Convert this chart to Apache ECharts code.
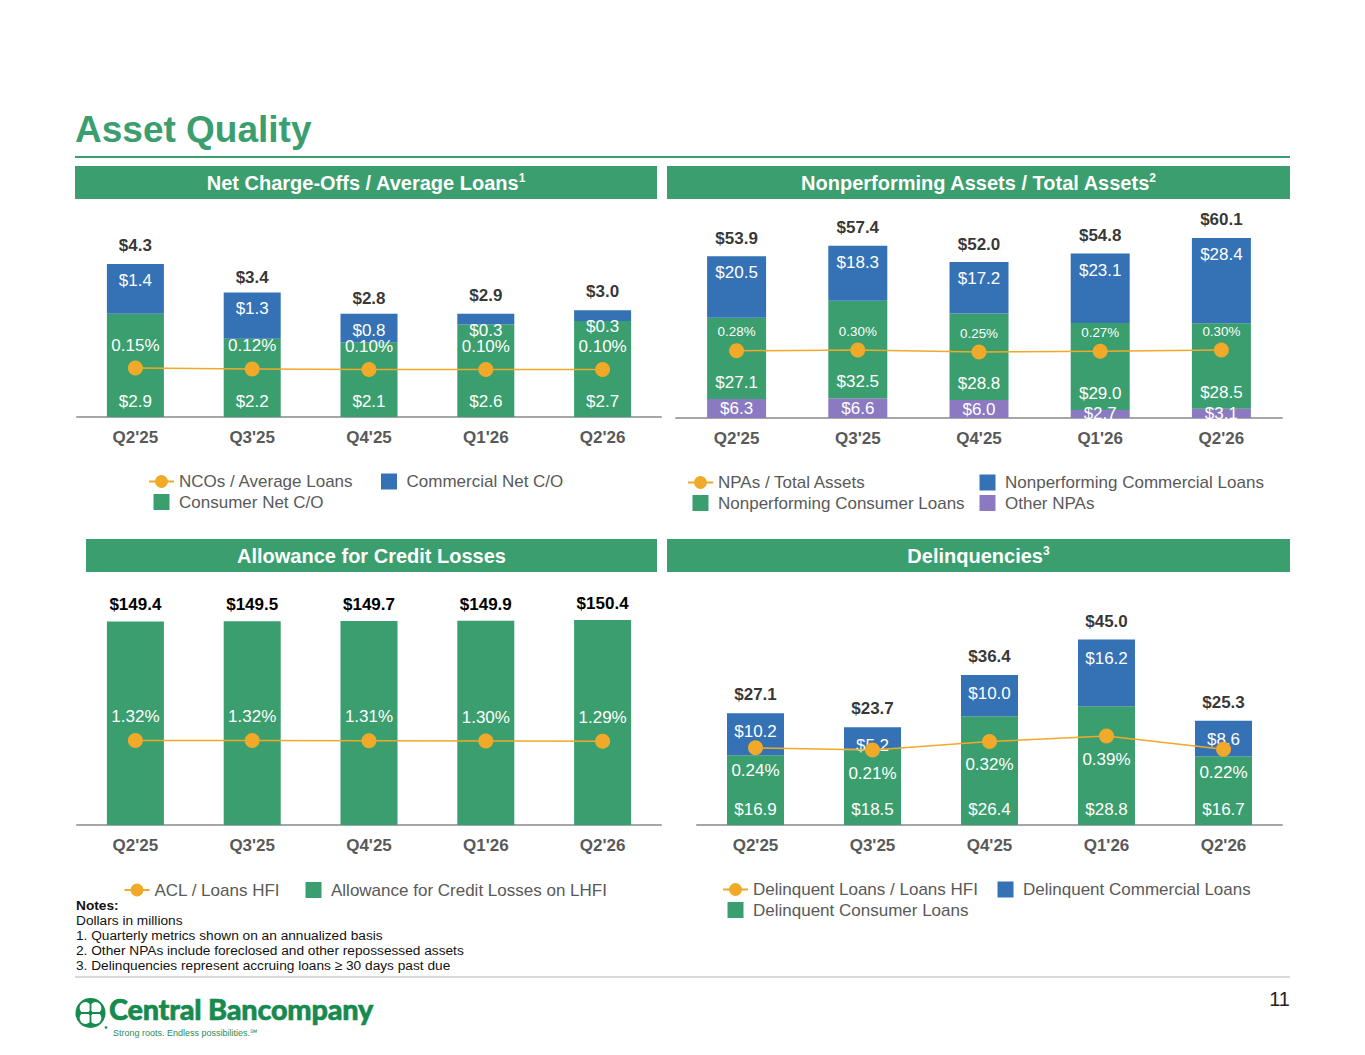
<!DOCTYPE html>
<html>
<head>
<meta charset="utf-8">
<script src="https://cdn.jsdelivr.net/npm/echarts@6/dist/echarts.min.js"></script>
<style>
  body { margin: 0; background: #fff; font-family: 'Liberation Sans', Arial, sans-serif; }
  #page { position: relative; width: 1365px; height: 1055px; overflow: hidden; }
  #chart { position: absolute; left: 0; top: 0; width: 1365px; height: 1055px; }
  .abs { position: absolute; z-index: 2; }
  .title { left: 75px; top: 111px; font-size: 37px; line-height: 37px; font-weight: bold; color: #3A9E6E; }
  .rule { left: 75px; top: 156px; width: 1215px; height: 2px; background: #3A9E6E; }
  .head { height: 33px; line-height: 34px; background: #3A9E6E; color: #fff; font-size: 20px; font-weight: bold; text-align: center; }
  .sup { font-size: 12px; position: relative; top: -8px; }
  .notes { left: 76px; top: 898px; font-size: 13.7px; line-height: 15px; color: #111; }
  .foot { left: 75px; top: 976px; width: 1215px; height: 2px; background: #D9D9D9; }
  .pnum { left: 1240px; width: 50px; top: 988px; font-size: 20px; text-align: right; color: #222; }
  .brand { left: 109px; top: 994px; font-family: Lato, 'Liberation Sans', sans-serif; font-weight: 900; font-size: 28.8px; line-height: 30px; color: #168A4F; -webkit-text-stroke: 0.6px #168A4F; letter-spacing: -0.2px; }
  .tag { left: 113px; top: 1028px; font-size: 9px; line-height: 10px; color: #2E8B57; }
</style>
</head>
<body>
<div id="page">
  <div id="chart"></div>
  <div class="abs title">Asset Quality</div>
  <div class="abs rule"></div>
  <div class="abs head" style="left:75px;top:166px;width:582px">Net Charge-Offs / Average Loans<span class="sup">1</span></div>
  <div class="abs head" style="left:667px;top:166px;width:623px">Nonperforming Assets / Total Assets<span class="sup">2</span></div>
  <div class="abs head" style="left:86px;top:539px;width:571px">Allowance for Credit Losses</div>
  <div class="abs head" style="left:667px;top:539px;width:623px">Delinquencies<span class="sup">3</span></div>
  <div class="abs notes"><b>Notes:</b><br>Dollars in millions<br>1. Quarterly metrics shown on an annualized basis<br>2. Other NPAs include foreclosed and other repossessed assets<br>3. Delinquencies represent accruing loans &#8805; 30 days past due</div>
  <div class="abs foot"></div>
  <div class="abs pnum">11</div>
  <svg class="abs" style="left:75px;top:997px" width="34" height="34" viewBox="0 0 34 34">
    <circle cx="15.5" cy="16" r="15" fill="#168A4F"/>
    <circle cx="10.4" cy="10.9" r="5.8" fill="#fff"/>
    <circle cx="20.6" cy="10.9" r="5.8" fill="#fff"/>
    <circle cx="10.4" cy="21.1" r="5.8" fill="#fff"/>
    <circle cx="20.6" cy="21.1" r="5.8" fill="#fff"/>
    <path d="M15.5 4V28M3.5 16H27.5" stroke="#168A4F" stroke-width="1.8"/>
    <circle cx="15.5" cy="16" r="2.2" fill="#168A4F"/>
    <circle cx="31" cy="30.5" r="1.3" fill="#168A4F"/>
  </svg>
  <div class="abs brand">Central Bancompany</div>
  <div class="abs tag">Strong roots. Endless possibilities.&#8480;</div>
</div>
<script>
const quarters = ["Q2'25", "Q3'25", "Q4'25", "Q1'26", "Q2'26"];

// net charge-offs, $M
const ncoConsumer = [2.9, 2.2, 2.1, 2.6, 2.7];
const ncoCommercial = [1.4, 1.3, 0.8, 0.3, 0.3];
const ncoTotal = [4.3, 3.4, 2.8, 2.9, 3.0];
const ncoRatio = [0.15, 0.12, 0.10, 0.10, 0.10];

// nonperforming assets, $M
const npaOther = [6.3, 6.6, 6.0, 2.7, 3.1];
const npaConsumer = [27.1, 32.5, 28.8, 29.0, 28.5];
const npaCommercial = [20.5, 18.3, 17.2, 23.1, 28.4];
const npaTotal = [53.9, 57.4, 52.0, 54.8, 60.1];
const npaRatio = [0.28, 0.30, 0.25, 0.27, 0.30];

// allowance for credit losses, $M
const aclAmount = [149.4, 149.5, 149.7, 149.9, 150.4];
const aclRatio = [1.32, 1.32, 1.31, 1.30, 1.29];

// delinquencies, $M
const dqConsumer = [16.9, 18.5, 26.4, 28.8, 16.7];
const dqCommercial = [10.2, 5.2, 10.0, 16.2, 8.6];
const dqTotal = [27.1, 23.7, 36.4, 45.0, 25.3];
const dqRatio = [0.24, 0.21, 0.32, 0.39, 0.22];

const FONT = "'Liberation Sans', Arial, sans-serif";
const GREEN = '#3A9E6E', BLUE = '#3471B5', PURPLE = '#8B7AC1', ORANGE = '#F0A928', GREY = '#595959';
const SQUARE = 'path://M0 0H10V10H0Z';

const money = v => '$' + v.toFixed(1);
const pct = v => v.toFixed(2) + '%';

function bar(name, data, i, color, width, label) {
  return {
    name, type: 'bar', stack: 's' + i, xAxisIndex: i, yAxisIndex: i * 2, data,
    barWidth: width, itemStyle: {color},
    label: Object.assign({show: true, color: '#fff', fontSize: 17, fontFamily: FONT,
      formatter: p => money(p.value)}, label)
  };
}

function ratio(name, data, i, label) {
  return {
    name, type: 'line', xAxisIndex: i, yAxisIndex: i * 2 + 1, data, z: 5,
    symbol: 'circle', symbolSize: 15,
    itemStyle: {color: ORANGE}, lineStyle: {color: ORANGE, width: 1.5},
    label: Object.assign({show: true, color: '#fff', fontSize: 17, fontFamily: FONT,
      formatter: p => pct(p.value)}, label)
  };
}

function totals(data, i, dist) {
  return {
    type: 'scatter', xAxisIndex: i, yAxisIndex: i * 2, data, z: 6, silent: true,
    symbolSize: 1, itemStyle: {color: 'rgba(0,0,0,0)'},
    label: {show: true, position: 'top', distance: dist, color: '#000', fontWeight: 'bold',
      fontSize: 17, fontFamily: FONT, formatter: p => money(p.value)}
  };
}

function legend(items, left, top) {
  return {
    data: items.map(it => it.sq ? {name: it.name, icon: SQUARE} : {name: it.name}),
    orient: 'vertical', left, top, padding: 0, itemWidth: 25, itemHeight: 16, itemGap: 3.5,
    selectedMode: false,
    textStyle: {fontSize: 17, color: GREY, fontFamily: FONT}
  };
}

const grids = [
  {left: 77, top: 239, width: 584, height: 178},
  {left: 676, top: 223, width: 606, height: 195},
  {left: 77, top: 607, width: 584, height: 218},
  {left: 697, top: 619, width: 585, height: 206}
];

const xAxis = grids.map((g, i) => ({
  type: 'category', gridIndex: i, data: quarters,
  axisTick: {show: false},
  axisLine: {lineStyle: {color: '#A6A6A6', width: 2}},
  axisLabel: {fontSize: 17, fontWeight: 'bold', color: GREY, fontFamily: FONT, margin: 12}
}));

const yAxis = [
  {gridIndex: 0, min: 0, max: 5, show: false},
  {gridIndex: 0, min: -1.5, max: 4.5, show: false},
  {gridIndex: 1, min: 0, max: 65, show: false},
  {gridIndex: 1, min: -1.4, max: 3.475, show: false},
  {gridIndex: 2, min: 0, max: 160, show: false},
  {gridIndex: 2, min: -1.5, max: 5.767, show: false},
  {gridIndex: 3, min: 0, max: 50, show: false},
  {gridIndex: 3, min: -0.75, max: 1.89, show: false}
];

const series = [
  // net charge-offs
  bar('Consumer Net C/O', ncoConsumer, 0, GREEN, 57, {position: 'insideBottom', distance: 7}),
  bar('Commercial Net C/O', ncoCommercial, 0, BLUE, 57, {position: 'insideTop', distance: 8}),
  ratio('NCOs / Average Loans', ncoRatio, 0, {position: 'top', distance: 7}),
  totals(ncoTotal, 0, 9.5),
  // nonperforming assets
  bar('Other NPAs', npaOther, 1, PURPLE, 59, {position: 'inside'}),
  bar('Nonperforming Consumer Loans', npaConsumer, 1, GREEN, 59, {position: 'insideBottom', distance: 8}),
  bar('Nonperforming Commercial Loans', npaCommercial, 1, BLUE, 59, {position: 'insideTop', distance: 8}),
  ratio('NPAs / Total Assets', npaRatio, 1, {position: 'top', distance: 5, fontSize: 13.4}),
  totals(npaTotal, 1, 9),
  // allowance
  bar('Allowance for Credit Losses on LHFI', aclAmount, 2, GREEN, 57,
    {position: 'top', distance: 8, color: '#000', fontWeight: 'bold'}),
  ratio('ACL / Loans HFI', aclRatio, 2, {position: 'top', distance: 8}),
  // delinquencies
  bar('Delinquent Consumer Loans', dqConsumer, 3, GREEN, 57, {position: 'insideBottom', distance: 7}),
  bar('Delinquent Commercial Loans', dqCommercial, 3, BLUE, 57, {position: 'insideTop', distance: 10}),
  ratio('Delinquent Loans / Loans HFI', dqRatio, 3, {position: 'bottom', distance: 7}),
  totals(dqTotal, 3, 9.5)
];

const legends = [
  legend([{name: 'NCOs / Average Loans'}, {name: 'Consumer Net C/O', sq: true}], 148, 473),
  legend([{name: 'Commercial Net C/O', sq: true}], 381, 473),
  legend([{name: 'NPAs / Total Assets'}, {name: 'Nonperforming Consumer Loans', sq: true}], 687, 474),
  legend([{name: 'Nonperforming Commercial Loans', sq: true}, {name: 'Other NPAs', sq: true}], 979.5, 474),
  legend([{name: 'ACL / Loans HFI'}], 123.5, 881.5),
  legend([{name: 'Allowance for Credit Losses on LHFI', sq: true}], 305.5, 881.5),
  legend([{name: 'Delinquent Loans / Loans HFI'}, {name: 'Delinquent Consumer Loans', sq: true}], 722, 881),
  legend([{name: 'Delinquent Commercial Loans', sq: true}], 997.5, 881)
];

const chart = echarts.init(document.getElementById('chart'), null, {renderer: 'svg'});
chart.setOption({
  animation: false,
  textStyle: {fontFamily: FONT},
  grid: grids,
  xAxis,
  yAxis,
  legend: legends,
  series
});
</script>
</body>
</html>
